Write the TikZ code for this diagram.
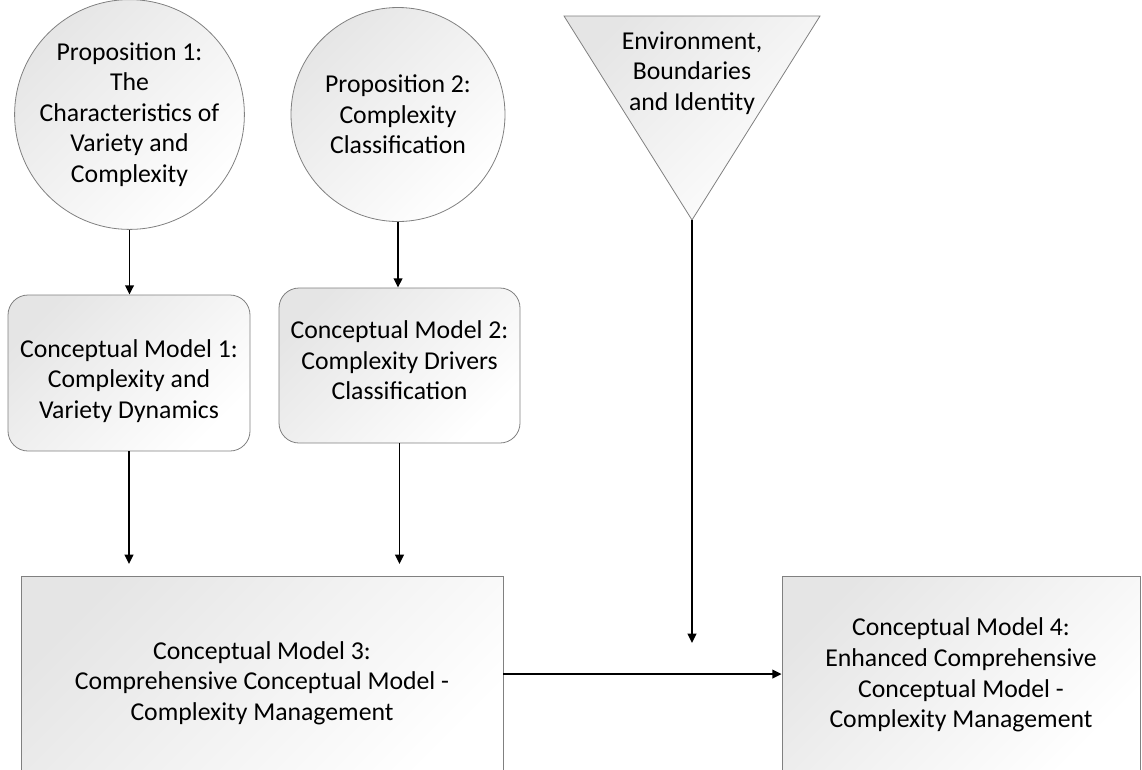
\documentclass[tikz,border=0pt]{standalone}
\usepackage{fontspec}
\setmainfont{Carlito}
\usetikzlibrary{arrows.meta}
\begin{document}
\begin{tikzpicture}[x=0.75pt,y=-0.75pt,
  shadedfill/.style={draw=black!50, line width=0.6pt, top color=black!10, bottom color=white, shading angle=45},
  txt/.style={align=center, inner sep=0pt, font=\fontsize{19.3}{22.9}\selectfont},
  shadedbox/.style={shadedfill, txt},
  conn/.style={draw=black, line width=1.4pt, -{Triangle[length=7pt,width=6.5pt]}},
]
\useasboundingbox (0,0) rectangle (1142,769);
\clip (0,0) rectangle (1142,769);
% propositions
\node[shadedbox, circle, minimum size=160.5pt] (p1) at (129.5,114.5) {Proposition 1:\\The\\Characteristics of\\Variety and\\Complexity};
\node[shadedbox, circle, minimum size=160.5pt] (p2) at (398,114.5) {Proposition 2:\\Complexity\\Classification};
% environment triangle
\path[shadedfill] (564,16) -- (820,16) -- (692,220) -- cycle;
\coordinate (apex) at (692,220);
\node[txt] (env) at (692,73) {Environment,\\Boundaries\\and Identity};
% conceptual models 1 and 2
\node[shadedfill, rounded corners=15pt, minimum width=181.5pt, minimum height=117pt] (m1) at (129,373) {};
\node[txt] (m1t) at (129,381) {Conceptual Model 1:\\Complexity and\\Variety Dynamics};
\node[shadedfill, rounded corners=15pt, minimum width=180.75pt, minimum height=116.25pt] (m2) at (399.5,365.5) {};
\node[txt] (m2t) at (399.5,360.5) {Conceptual Model 2:\\Complexity Drivers\\Classification};
% conceptual models 3 and 4
\node[shadedbox, minimum width=361.5pt, minimum height=160.5pt] (m3) at (262,683) {Conceptual Model 3:\\Comprehensive Conceptual Model -\\Complexity Management};
\node[shadedbox, minimum width=268.5pt, minimum height=148.5pt] (m4) at (961,675) {Conceptual Model 4:\\Enhanced Comprehensive\\Conceptual Model -\\Complexity Management};
% free ends
\coordinate (e1) at (129,564);
\coordinate (e2) at (399.5,564);
\coordinate (e3) at (692,643);
% connectors
\draw[conn] (p1.south) -- (p1.south |- m1.north);
\draw[conn] (p2.south) -- (p2.south |- m2.north);
\draw[conn] (m1.south) -- (e1);
\draw[conn] (m2.south) -- (e2);
\draw[conn] (apex) -- (e3);
\draw[conn] (m3.east |- 0,674) -- (m4.west |- 0,674);
\end{tikzpicture}
\end{document}
